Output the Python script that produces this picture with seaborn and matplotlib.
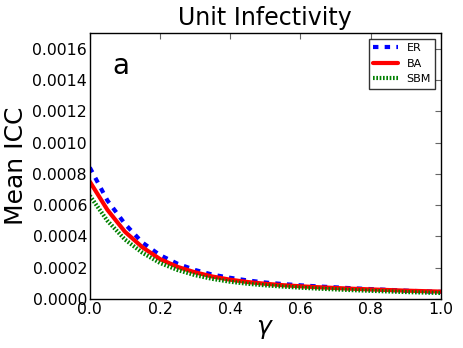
import numpy as np
import pandas as pd
import matplotlib

matplotlib.use('Agg')
import matplotlib.pyplot as plt
import seaborn as sns

# valores (x1e-4)
gamma = [0.0, 0.05, 0.1, 0.15, 0.2, 0.25, 0.3, 0.35, 0.4, 0.45, 0.5,
         0.55, 0.6, 0.65, 0.7, 0.75, 0.8, 0.85, 0.9, 0.95, 1.0]
icc_er = [8.4, 6.3, 4.8, 3.6, 2.8, 2.25, 1.85, 1.55, 1.35, 1.18, 1.05,
          0.95, 0.87, 0.8, 0.74, 0.68, 0.63, 0.58, 0.53, 0.49, 0.45]
icc_ba = [7.5, 5.7, 4.3, 3.3, 2.55, 2.05, 1.7, 1.43, 1.23, 1.08, 0.97,
          0.88, 0.81, 0.75, 0.7, 0.65, 0.61, 0.57, 0.53, 0.5, 0.47]
icc_sbm = [6.6, 5.0, 3.8, 2.95, 2.3, 1.85, 1.52, 1.28, 1.1, 0.97, 0.87,
           0.79, 0.72, 0.66, 0.61, 0.56, 0.52, 0.48, 0.44, 0.41, 0.38]

sns.set_style('white')
plt.rcParams['font.family'] = ['DejaVu Sans']
plt.rcParams['xtick.direction'] = 'in'
plt.rcParams['ytick.direction'] = 'in'
plt.rcParams['text.color'] = 'black'
plt.rcParams['axes.labelcolor'] = 'black'
plt.rcParams['xtick.color'] = 'black'
plt.rcParams['ytick.color'] = 'black'

fig = plt.figure(figsize=(4.63, 3.48), dpi=100)
ax = fig.add_axes([0.194, 0.141, 0.758, 0.764])

series = [('ER', icc_er, 'blue', (0, (1.3, 1.5))),
          ('BA', icc_ba, 'red', '-'),
          ('SBM', icc_sbm, 'green', (0, (0.4, 0.4)))]

for nome, valores, cor, estilo in series:
    df = pd.DataFrame({'gamma': gamma, 'icc': np.array(valores) * 1e-4})
    sns.lineplot(data=df, x='gamma', y='icc', ax=ax, color=cor, linewidth=3,
                 linestyle=estilo, label=nome)

ax.set_xlim(0, 1)
ax.set_ylim(0, 0.0017)
ax.set_xticks(np.arange(0, 1.01, 0.2))
ax.set_yticks(np.arange(0, 0.00161, 0.0002))
ax.set_yticklabels([f'{v:.4f}' for v in np.arange(0, 0.00161, 0.0002)])
ax.tick_params(labelsize=11.3, length=4, top=True, right=True, pad=2)
ax.tick_params(axis='both', color='#666666')
for s in ax.spines.values():
    s.set_color('black')
    s.set_linewidth(1)

ax.set_title('Unit Infectivity', fontsize=17)
ax.set_xlabel(r'$\gamma$', fontsize=18, labelpad=0)
ax.set_ylabel('Mean ICC', fontsize=18, labelpad=3)
ax.text(0.063, 0.93, 'a', transform=ax.transAxes, fontsize=20, va='top')

leg = ax.legend(loc='upper right', fontsize=8, fancybox=False, handlelength=2.2)
leg.get_frame().set_edgecolor('black')

plt.savefig('out.png', dpi=100)
